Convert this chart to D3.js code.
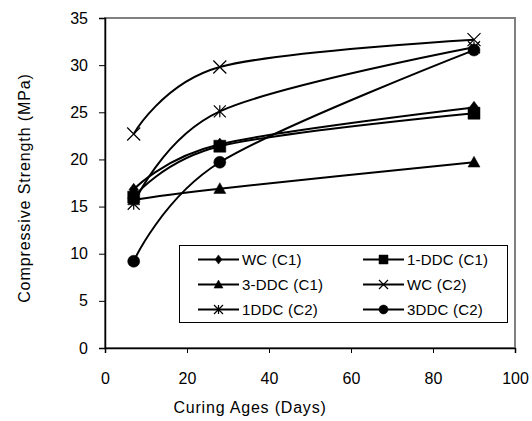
<!DOCTYPE html>
<html>
<head>
<meta charset="utf-8">
<script src="https://cdn.jsdelivr.net/npm/d3@7"></script>
<style>
  body { margin: 0; background: #fff; }
  text { font-family: "Liberation Sans", Arial, sans-serif; fill: #000; }
</style>
</head>
<body>
<div id="chart"></div>
<script>
// curing ages (days)
const ages = [7, 28, 90];

// compressive strength (MPa) per mix
const wcC1 = [16.8, 21.6, 25.5];
const ddc1C1 = [16.0, 21.4, 24.9];
const ddc3C1 = [15.7, 16.9, 19.7];
const wcC2 = [22.7, 29.8, 32.7];
const ddc1C2 = [15.3, 25.1, 31.9];
const ddc3C2 = [9.2, 19.7, 31.6];

const seriesNames = ["WC (C1)", "1-DDC (C1)", "3-DDC (C1)", "WC (C2)", "1DDC (C2)", "3DDC (C2)"];
const markers = ["diamond", "square", "triangle", "x", "asterisk", "circle"];

const xTicks = [0, 20, 40, 60, 80, 100];
const yTicks = [0, 5, 10, 15, 20, 25, 30, 35];

let width = 532;
let height = 421;
let margin = { top: 18, left: 105, right: 17, bottom: 73 };

const svg = d3.select("#chart")
  .append("svg")
  .attr("width", width)
  .attr("height", height);

const x = d3.scaleLinear().domain([0, 100]).range([margin.left, width - margin.right]);
const y = d3.scaleLinear().domain([0, 35]).range([height - margin.bottom, margin.top]);

// plot area border (gray top/right)
svg.append("rect")
  .attr("x", x(0))
  .attr("y", y(35))
  .attr("width", x(100) - x(0))
  .attr("height", y(0) - y(35))
  .attr("fill", "none")
  .attr("stroke", "#808080")
  .attr("stroke-width", 2);

const xAxis = svg.append("g")
  .attr("transform", `translate(0,${y(0)})`)
  .call(d3.axisBottom(x).tickValues(xTicks).tickSize(5).tickPadding(20).tickSizeOuter(5));
const yAxis = svg.append("g")
  .attr("transform", `translate(${x(0)},0)`)
  .call(d3.axisLeft(y).tickValues(yTicks).tickSize(6).tickPadding(11).tickSizeOuter(6));

[xAxis, yAxis].forEach(g => {
  g.select(".domain").attr("stroke", "#000").attr("stroke-width", 1.5);
  g.selectAll(".tick line").attr("stroke", "#000");
  g.selectAll("text").attr("font-size", 16).attr("font-family", "Liberation Sans, Arial, sans-serif");
});

svg.append("text")
  .attr("x", 250)
  .attr("y", 413)
  .attr("text-anchor", "middle")
  .attr("font-size", 16)
  .attr("letter-spacing", 0.8)
  .text("Curing Ages (Days)");

svg.append("text")
  .attr("transform", "translate(30,188) rotate(-90)")
  .attr("text-anchor", "middle")
  .attr("font-size", 16)
  .attr("letter-spacing", 0.9)
  .text("Compressive Strength (MPa)");

// marker shapes
function markerPath(type, s) {
  const r = s / 2;
  switch (type) {
    case "diamond": return `M0,${-r * 1.15}L${r * 0.85},0L0,${r * 1.15}L${-r * 0.85},0Z`;
    case "square": return `M${-r},${-r}H${r}V${r}H${-r}Z`;
    case "triangle": return `M0,${-r}L${r},${r * 0.8}L${-r},${r * 0.8}Z`;
    case "x": return `M${-r},${-r}L${r},${r}M${-r},${r}L${r},${-r}`;
    case "asterisk": return `M${-r},${-r}L${r},${r}M${-r},${r}L${r},${-r}M0,${-r}L0,${r}`;
    case "circle": return d3.symbol(d3.symbolCircle, Math.PI * r * r)();
  }
}
function drawMarker(g, type, s) {
  const stroked = type === "x" || type === "asterisk";
  g.append("path")
    .attr("d", markerPath(type, s))
    .attr("fill", stroked ? "none" : "#000")
    .attr("stroke", "#000")
    .attr("stroke-width", stroked ? 1.2 : 0.5);
}

const line = d3.line()
  .x((d, i) => x(ages[i]))
  .y(d => y(d))
  .curve(d3.curveCardinal.tension(0));

const allSeries = [wcC1, ddc1C1, ddc3C1, wcC2, ddc1C2, ddc3C2];
const sizes = [11, 12, 12, 13, 12, 12];

allSeries.forEach((vals, k) => {
  svg.append("path")
    .attr("d", line(vals))
    .attr("fill", "none")
    .attr("stroke", "#000")
    .attr("stroke-width", 2);
});
allSeries.forEach((vals, k) => {
  vals.forEach((v, i) => {
    const g = svg.append("g").attr("transform", `translate(${x(ages[i])},${y(v)})`);
    drawMarker(g, markers[k], sizes[k]);
  });
});

// legend
const legend = svg.append("g");
legend.append("rect")
  .attr("x", 179.5).attr("y", 245.5)
  .attr("width", 328).attr("height", 77)
  .attr("fill", "#fff").attr("stroke", "#000");

const colX = [198, 363];
const rowY = [259.5, 284.5, 309.5];
seriesNames.forEach((name, k) => {
  const cx = colX[k % 2];
  const cy = rowY[Math.floor(k / 2)];
  legend.append("line")
    .attr("x1", cx).attr("x2", cx + 41)
    .attr("y1", cy).attr("y2", cy)
    .attr("stroke", "#000").attr("stroke-width", 2);
  const g = legend.append("g").attr("transform", `translate(${cx + 20.5},${cy})`);
  drawMarker(g, markers[k], k === 0 ? 8 : 9);
  legend.append("text")
    .attr("x", cx + 44)
    .attr("y", cy + 5.5)
    .attr("font-size", 15)
    .attr("letter-spacing", 0.2)
    .text(name);
});
</script>
</body>
</html>
